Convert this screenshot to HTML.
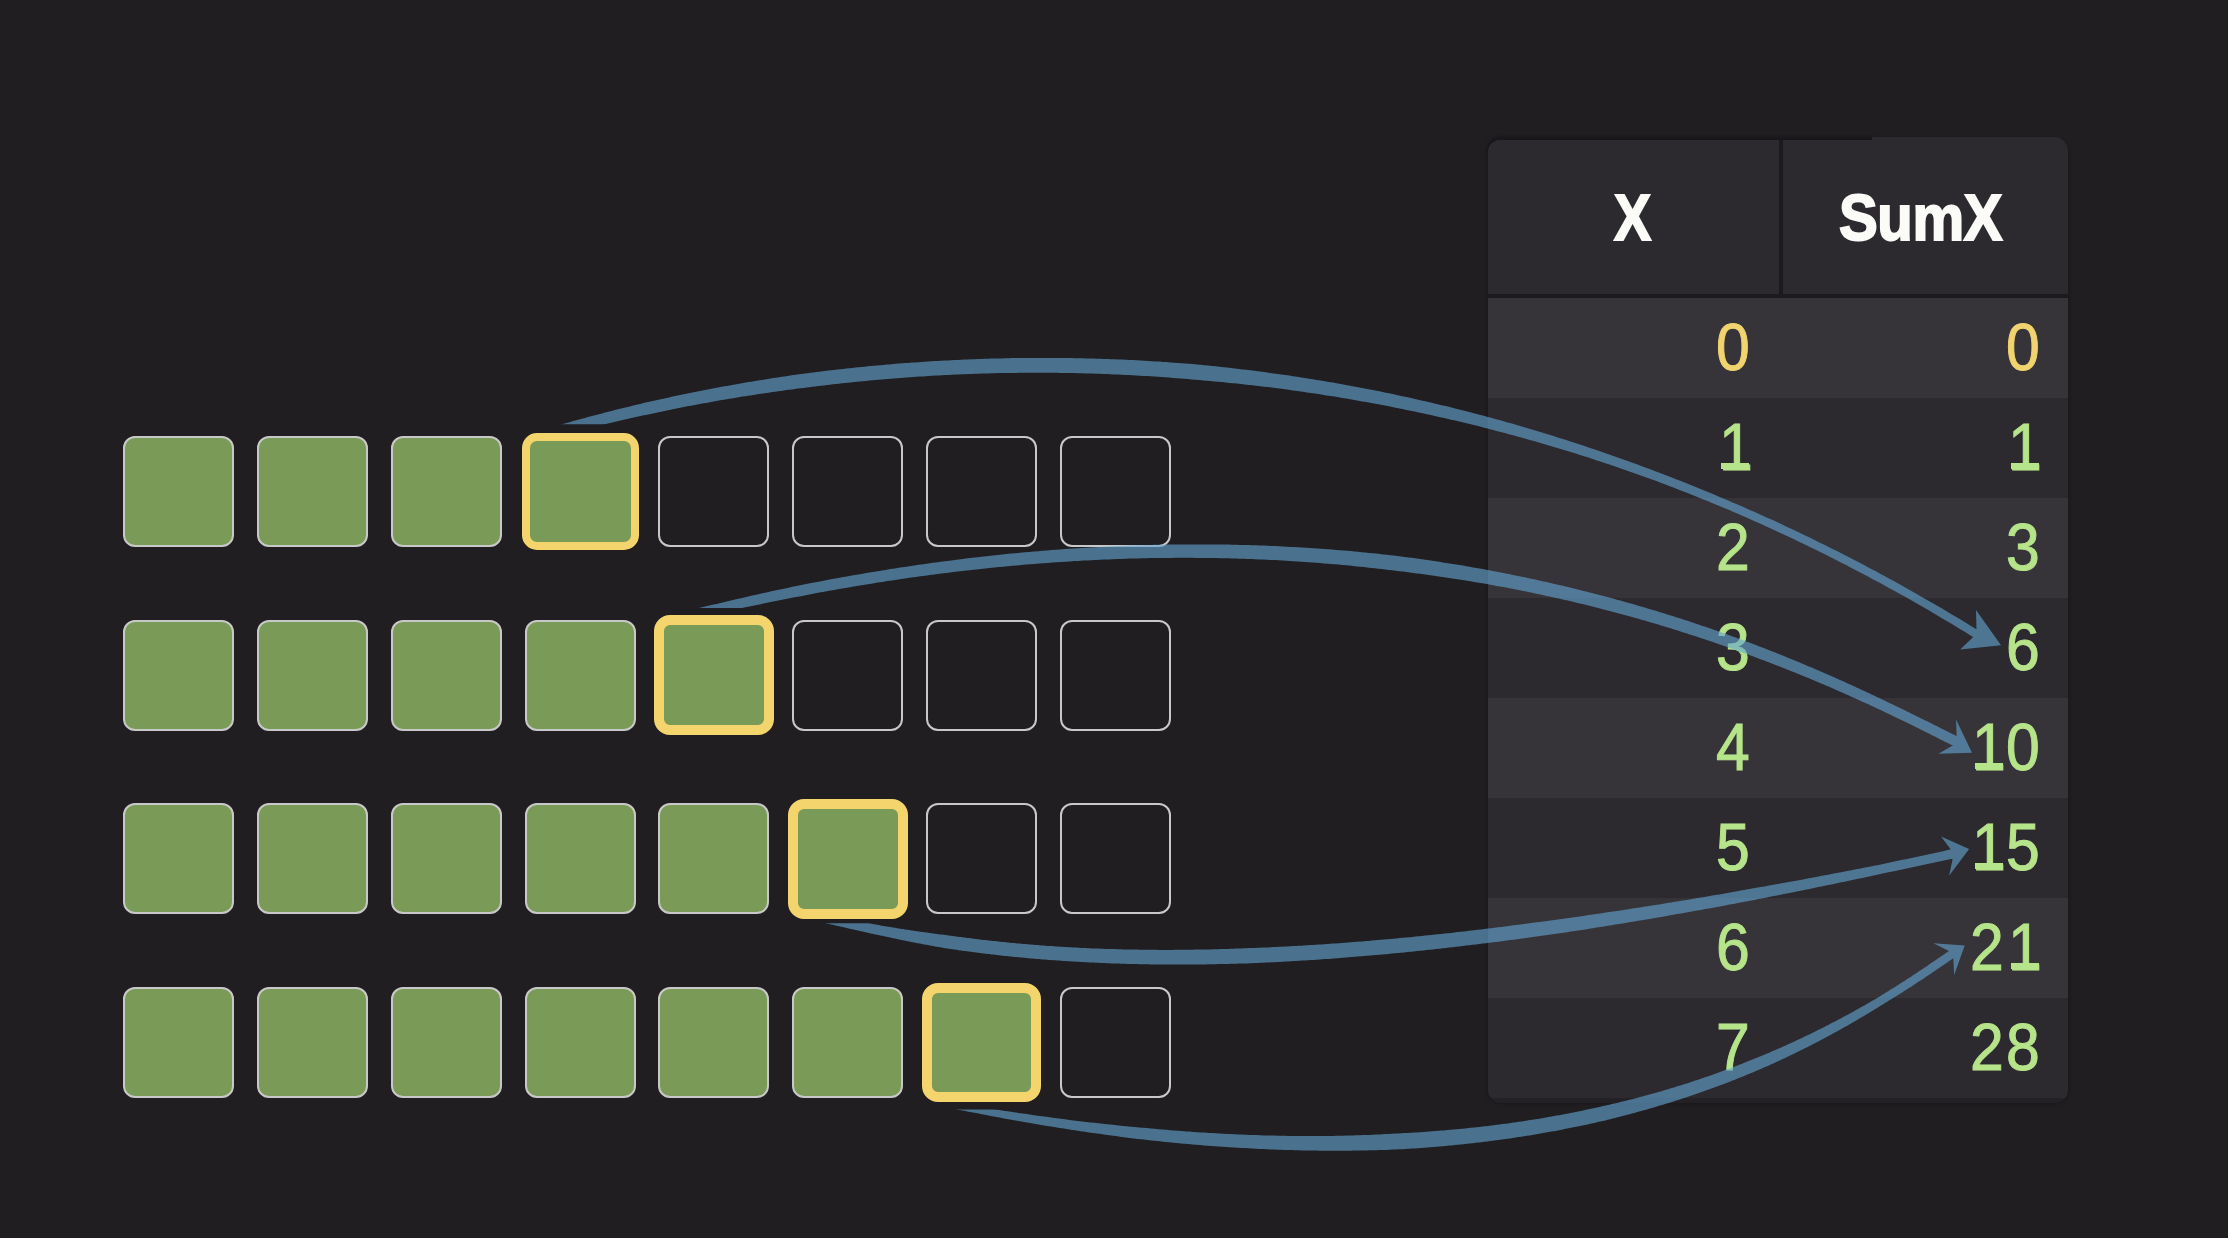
<!DOCTYPE html>
<html><head><meta charset="utf-8"><style>
html,body{margin:0;padding:0;}
body{width:2228px;height:1238px;background:#201e21;position:relative;overflow:hidden;font-family:"Liberation Sans",sans-serif;}
.sq{position:absolute;box-sizing:border-box;width:111px;height:111px;border:2px solid #c8c8c8;border-radius:12px;}
.sq.g{background:#7a9b57;}
.sq.hi{width:117px;height:117px;border:8px solid #f3d46d;border-radius:15px;background:#7a9b57;}
.tbl{position:absolute;left:1488px;top:139.5px;width:580px;height:963.5px;background:#232125;border-radius:12px 12px 13px 13px;overflow:hidden;box-shadow:0 0 4px rgba(0,0,0,0.35);}
.hdr{position:absolute;left:0;top:0;width:100%;height:154.5px;background:#2c2a2f;}
.vline{position:absolute;left:291px;top:0;width:4px;height:154.5px;background:#1b1a1d;}
.hline{position:absolute;left:0;top:154.5px;width:100%;height:4px;background:#1b1a1d;}
.row{position:absolute;left:0;width:100%;height:100px;}
.num{position:absolute;width:60px;text-align:center;height:100px;line-height:100px;font-family:"Liberation Sans",sans-serif;font-size:66px;transform:scaleX(0.92);white-space:nowrap;-webkit-text-stroke:1.0px currentColor;}
.base{position:absolute;width:28px;height:6.5px;}
.ht{position:absolute;top:1px;height:155px;line-height:155px;font-weight:bold;font-size:64px;color:#fbfbf7;white-space:nowrap;transform:scaleX(0.87);transform-origin:center;-webkit-text-stroke:2px #fbfbf7;}
svg{position:absolute;left:0;top:0;}
</style></head><body>
<div class="sq g" style="left:123.00px;top:436.00px"></div>
<div class="sq g" style="left:256.86px;top:436.00px"></div>
<div class="sq g" style="left:390.72px;top:436.00px"></div>
<div class="sq hi" style="left:521.58px;top:433.00px"></div>
<div class="sq e" style="left:658.44px;top:436.00px"></div>
<div class="sq e" style="left:792.30px;top:436.00px"></div>
<div class="sq e" style="left:926.16px;top:436.00px"></div>
<div class="sq e" style="left:1060.02px;top:436.00px"></div>
<div class="sq g" style="left:123.00px;top:619.67px"></div>
<div class="sq g" style="left:256.86px;top:619.67px"></div>
<div class="sq g" style="left:390.72px;top:619.67px"></div>
<div class="sq g" style="left:524.58px;top:619.67px"></div>
<div class="sq hi" style="left:654.19px;top:615.42px;width:119.5px;height:119.5px;border-width:10px;border-radius:16px"></div>
<div class="sq e" style="left:792.30px;top:619.67px"></div>
<div class="sq e" style="left:926.16px;top:619.67px"></div>
<div class="sq e" style="left:1060.02px;top:619.67px"></div>
<div class="sq g" style="left:123.00px;top:803.34px"></div>
<div class="sq g" style="left:256.86px;top:803.34px"></div>
<div class="sq g" style="left:390.72px;top:803.34px"></div>
<div class="sq g" style="left:524.58px;top:803.34px"></div>
<div class="sq g" style="left:658.44px;top:803.34px"></div>
<div class="sq hi" style="left:788.05px;top:799.09px;width:119.5px;height:119.5px;border-width:10px;border-radius:16px"></div>
<div class="sq e" style="left:926.16px;top:803.34px"></div>
<div class="sq e" style="left:1060.02px;top:803.34px"></div>
<div class="sq g" style="left:123.00px;top:987.01px"></div>
<div class="sq g" style="left:256.86px;top:987.01px"></div>
<div class="sq g" style="left:390.72px;top:987.01px"></div>
<div class="sq g" style="left:524.58px;top:987.01px"></div>
<div class="sq g" style="left:658.44px;top:987.01px"></div>
<div class="sq g" style="left:792.30px;top:987.01px"></div>
<div class="sq hi" style="left:921.91px;top:982.76px;width:119.5px;height:119.5px;border-width:10px;border-radius:16px"></div>
<div class="sq e" style="left:1060.02px;top:987.01px"></div>
<div style="position:absolute;left:1488px;top:137.3px;width:386px;height:16px;background:#1b1a1d;border-top-left-radius:13px;box-shadow:0 0 3px rgba(0,0,0,0.3)"></div>
<div class="tbl">
<div class="hdr"></div>
<div class="vline"></div>
<div class="hline"></div>

<div class="row" style="top:158.5px;background:#363439"></div>
<div class="num" style="top:157.5px;left:215.0px;color:#f1d46f">0</div>
<div class="num" style="top:157.5px;left:504.8px;color:#f1d46f">0</div>
<div class="row" style="top:258.5px;background:#2c2a2f"></div>
<div class="num" style="top:257.5px;left:217.5px;color:#b6e48a">1</div><div class="base" style="top:323.3px;left:233.3px;background:#b6e48a"></div>
<div class="num" style="top:257.5px;left:507.3px;color:#b6e48a">1</div><div class="base" style="top:323.3px;left:523.1px;background:#b6e48a"></div>
<div class="row" style="top:358.5px;background:#363439"></div>
<div class="num" style="top:357.5px;left:215.0px;color:#b6e48a">2</div>
<div class="num" style="top:357.5px;left:504.8px;color:#b6e48a">3</div>
<div class="row" style="top:458.5px;background:#2c2a2f"></div>
<div class="num" style="top:457.5px;left:215.0px;color:#b6e48a">3</div>
<div class="num" style="top:457.5px;left:504.8px;color:#b6e48a">6</div>
<div class="row" style="top:558.5px;background:#363439"></div>
<div class="num" style="top:557.5px;left:215.0px;color:#b6e48a">4</div>
<div class="num" style="top:557.5px;left:471.1px;color:#b6e48a">1</div><div class="base" style="top:623.3px;left:486.9px;background:#b6e48a"></div>
<div class="num" style="top:557.5px;left:504.8px;color:#b6e48a">0</div>
<div class="row" style="top:658.5px;background:#2c2a2f"></div>
<div class="num" style="top:657.5px;left:215.0px;color:#b6e48a">5</div>
<div class="num" style="top:657.5px;left:471.1px;color:#b6e48a">1</div><div class="base" style="top:723.3px;left:486.9px;background:#b6e48a"></div>
<div class="num" style="top:657.5px;left:504.8px;color:#b6e48a">5</div>
<div class="row" style="top:758.5px;background:#363439"></div>
<div class="num" style="top:757.5px;left:215.0px;color:#b6e48a">6</div>
<div class="num" style="top:757.5px;left:468.6px;color:#b6e48a">2</div>
<div class="num" style="top:757.5px;left:507.3px;color:#b6e48a">1</div><div class="base" style="top:823.3px;left:523.1px;background:#b6e48a"></div>
<div class="row" style="top:858.5px;background:#2c2a2f"></div>
<div class="num" style="top:857.5px;left:215.0px;color:#b6e48a">7</div>
<div class="num" style="top:857.5px;left:468.6px;color:#b6e48a">2</div>
<div class="num" style="top:857.5px;left:504.8px;color:#b6e48a">8</div>
<div class="ht" style="left:-1.5px;width:291px;text-align:center">X</div>
<div class="ht" style="left:289.5px;width:285px;text-align:center;letter-spacing:-0.5px;transform:scaleX(0.908)">SumX</div>
</div>
<div style="position:absolute;left:1872px;top:137.2px;width:196px;height:24px;background:#2c2a2f;border-top-right-radius:14px"></div>
<svg width="2228" height="1238" viewBox="0 0 2228 1238"><defs><clipPath id="c1"><path clip-rule="evenodd" d="M0 0 H2228 V1238 H0 Z M432.7 424.2 H732.7 V624.2 H432.7 Z"/></clipPath><clipPath id="c2"><path clip-rule="evenodd" d="M0 0 H2228 V1238 H0 Z M570.0 608.0 H870.0 V808.0 H570.0 Z"/></clipPath><clipPath id="c3"><path clip-rule="evenodd" d="M0 0 H2228 V1238 H0 Z M696.4 723.3 H996.4 V923.3 H696.4 Z"/></clipPath><clipPath id="c4"><path clip-rule="evenodd" d="M0 0 H2228 V1238 H0 Z M825.6 909.6 H1125.6 V1109.6 H825.6 Z"/></clipPath></defs>
<g fill="rgb(100,165,210)" fill-opacity="0.62">
<path clip-path="url(#c1)" d="M538.5 431.0 L540.1 430.5 L541.8 430.0 L543.5 429.5 L545.2 429.0 L547.0 428.5 L548.7 428.0 L550.4 427.5 L552.2 427.0 L554.0 426.5 L555.8 426.0 L557.5 425.4 L559.4 424.9 L561.2 424.4 L563.0 423.9 L564.9 423.4 L566.7 422.9 L568.6 422.4 L570.5 421.9 L572.3 421.3 L574.3 420.8 L576.2 420.3 L578.1 419.8 L580.0 419.3 L582.0 418.7 L583.9 418.2 L585.9 417.7 L587.9 417.1 L589.9 416.6 L591.9 416.1 L593.9 415.5 L595.9 415.0 L598.0 414.4 L600.0 413.9 L602.1 413.4 L604.1 412.8 L606.2 412.3 L608.3 411.7 L610.4 411.2 L612.6 410.7 L614.7 410.1 L616.8 409.6 L619.0 409.0 L621.1 408.5 L623.3 408.0 L625.5 407.4 L627.7 406.9 L629.9 406.4 L632.1 405.8 L634.4 405.3 L636.6 404.7 L638.9 404.2 L641.1 403.7 L643.4 403.1 L645.7 402.6 L648.0 402.1 L650.3 401.5 L652.6 401.0 L654.9 400.5 L657.3 400.0 L659.6 399.4 L662.0 398.9 L664.4 398.4 L666.7 397.9 L669.1 397.4 L671.5 396.8 L674.0 396.3 L676.4 395.8 L678.8 395.3 L681.3 394.8 L683.7 394.3 L686.2 393.8 L688.7 393.3 L691.2 392.8 L693.7 392.2 L696.2 391.7 L698.7 391.2 L701.2 390.7 L703.8 390.2 L706.3 389.8 L708.9 389.3 L711.4 388.8 L714.0 388.3 L716.6 387.8 L719.2 387.3 L721.8 386.8 L724.5 386.3 L727.1 385.9 L729.7 385.4 L732.4 384.9 L735.0 384.4 L737.7 384.0 L740.4 383.5 L743.1 383.0 L745.8 382.6 L748.5 382.1 L751.2 381.7 L753.9 381.2 L756.7 380.7 L759.4 380.3 L762.2 379.9 L765.0 379.4 L767.7 379.0 L770.5 378.5 L773.3 378.1 L776.1 377.7 L779.0 377.2 L781.8 376.8 L784.6 376.4 L787.5 376.0 L790.3 375.6 L793.2 375.1 L796.1 374.7 L798.9 374.3 L801.8 373.9 L804.7 373.5 L807.6 373.2 L810.6 372.8 L813.5 372.4 L816.4 372.0 L819.4 371.7 L822.3 371.3 L825.3 371.0 L828.3 370.6 L831.3 370.2 L834.3 369.9 L837.3 369.6 L840.3 369.2 L843.3 368.9 L846.3 368.5 L849.4 368.2 L852.4 367.9 L855.5 367.6 L858.5 367.3 L861.6 367.0 L864.7 366.7 L867.8 366.3 L870.9 366.1 L874.0 365.8 L877.1 365.5 L880.2 365.2 L883.4 364.9 L886.5 364.6 L889.7 364.4 L892.8 364.1 L896.0 363.8 L899.2 363.6 L902.3 363.3 L905.5 363.1 L908.7 362.9 L911.9 362.6 L915.2 362.4 L918.4 362.2 L921.6 361.9 L924.9 361.7 L928.1 361.5 L931.4 361.3 L934.6 361.1 L937.9 360.9 L941.2 360.7 L944.5 360.6 L947.8 360.4 L951.1 360.2 L954.4 360.0 L957.7 359.9 L961.1 359.7 L964.4 359.6 L967.7 359.4 L971.1 359.3 L974.5 359.2 L977.8 359.1 L981.2 358.9 L984.6 358.8 L988.0 358.7 L991.4 358.6 L994.8 358.5 L998.2 358.4 L1001.6 358.4 L1005.0 358.3 L1008.5 358.2 L1011.9 358.1 L1015.4 358.1 L1018.8 358.0 L1022.3 358.0 L1025.8 358.0 L1029.3 357.9 L1032.7 357.9 L1036.2 357.9 L1039.7 357.9 L1043.2 357.9 L1046.8 357.9 L1050.3 357.9 L1053.8 357.9 L1057.4 357.9 L1060.9 358.0 L1064.5 358.0 L1068.0 358.1 L1071.6 358.1 L1075.2 358.2 L1078.7 358.2 L1082.3 358.3 L1085.9 358.4 L1089.5 358.5 L1093.1 358.6 L1096.7 358.7 L1100.4 358.8 L1104.0 358.9 L1107.6 359.0 L1111.3 359.2 L1114.9 359.3 L1118.6 359.5 L1122.2 359.6 L1125.9 359.8 L1129.6 360.0 L1133.2 360.1 L1136.9 360.3 L1140.6 360.5 L1144.3 360.7 L1148.0 360.9 L1151.7 361.2 L1155.5 361.4 L1159.2 361.6 L1162.9 361.9 L1166.7 362.1 L1170.4 362.4 L1174.1 362.7 L1177.9 362.9 L1181.7 363.2 L1185.4 363.5 L1189.2 363.8 L1193.0 364.1 L1196.8 364.5 L1200.6 364.8 L1204.4 365.2 L1208.2 365.5 L1212.0 365.9 L1215.8 366.3 L1219.6 366.7 L1223.4 367.2 L1227.3 367.6 L1231.1 368.0 L1234.9 368.5 L1238.8 368.9 L1242.6 369.4 L1246.5 369.8 L1250.4 370.3 L1254.2 370.8 L1258.1 371.3 L1262.0 371.8 L1265.9 372.3 L1269.7 372.9 L1273.6 373.4 L1277.5 373.9 L1281.5 374.5 L1285.4 375.1 L1289.3 375.6 L1293.2 376.2 L1297.1 376.8 L1301.1 377.4 L1305.0 378.0 L1308.9 378.7 L1312.9 379.3 L1316.8 379.9 L1320.8 380.6 L1324.8 381.2 L1328.7 381.9 L1332.7 382.6 L1336.7 383.3 L1340.7 384.0 L1344.6 384.7 L1348.6 385.5 L1352.6 386.2 L1356.6 386.9 L1360.6 387.7 L1364.6 388.5 L1368.7 389.2 L1372.7 390.0 L1376.7 390.8 L1380.7 391.6 L1384.8 392.5 L1388.8 393.3 L1392.8 394.1 L1396.9 395.0 L1400.9 395.9 L1405.0 396.7 L1409.1 397.6 L1413.1 398.5 L1417.2 399.4 L1421.3 400.4 L1425.3 401.3 L1429.4 402.2 L1433.5 403.2 L1437.6 404.2 L1441.7 405.2 L1445.8 406.1 L1449.9 407.1 L1454.0 408.2 L1458.1 409.2 L1462.2 410.2 L1466.3 411.3 L1470.4 412.3 L1474.6 413.4 L1478.7 414.5 L1482.8 415.6 L1487.0 416.7 L1491.1 417.8 L1495.2 419.0 L1499.4 420.1 L1503.5 421.3 L1507.7 422.4 L1511.9 423.6 L1516.0 424.8 L1520.2 426.0 L1524.4 427.2 L1528.5 428.4 L1532.7 429.7 L1536.9 430.9 L1541.1 432.2 L1545.2 433.5 L1549.4 434.8 L1553.6 436.1 L1557.8 437.4 L1562.0 438.7 L1566.2 440.1 L1570.4 441.4 L1574.6 442.8 L1578.9 444.2 L1583.1 445.6 L1587.3 447.0 L1591.5 448.4 L1595.7 449.8 L1600.0 451.3 L1604.2 452.7 L1608.4 454.2 L1612.7 455.7 L1616.9 457.2 L1621.2 458.7 L1625.4 460.2 L1629.7 461.7 L1633.9 463.3 L1638.2 464.8 L1642.4 466.4 L1646.7 468.0 L1651.0 469.6 L1655.2 471.2 L1659.5 472.8 L1663.8 474.4 L1668.0 476.1 L1672.3 477.8 L1676.6 479.4 L1680.9 481.1 L1685.2 482.8 L1689.5 484.5 L1693.8 486.3 L1698.1 488.0 L1702.4 489.8 L1706.7 491.5 L1711.0 493.3 L1715.3 495.1 L1719.6 496.9 L1723.9 498.7 L1728.2 500.6 L1732.5 502.4 L1736.9 504.3 L1741.2 506.1 L1745.5 508.0 L1749.8 509.9 L1754.2 511.8 L1758.5 513.8 L1762.8 515.7 L1767.2 517.7 L1771.5 519.6 L1775.9 521.6 L1780.2 523.6 L1784.6 525.7 L1788.9 527.7 L1793.3 529.7 L1797.6 531.8 L1802.0 533.9 L1806.3 536.0 L1810.7 538.1 L1815.0 540.2 L1819.4 542.4 L1823.8 544.5 L1828.1 546.7 L1832.5 548.9 L1836.9 551.1 L1841.2 553.3 L1845.6 555.5 L1850.0 557.8 L1854.4 560.0 L1858.7 562.3 L1863.1 564.6 L1867.5 566.9 L1871.9 569.2 L1876.3 571.6 L1880.6 573.9 L1885.0 576.3 L1889.4 578.7 L1893.8 581.1 L1898.2 583.5 L1902.6 586.0 L1907.0 588.4 L1911.4 590.9 L1915.8 593.4 L1920.1 595.9 L1924.5 598.4 L1928.9 600.9 L1933.3 603.5 L1937.7 606.1 L1942.1 608.6 L1946.5 611.2 L1950.9 613.9 L1955.4 616.5 L1959.8 619.1 L1964.2 621.8 L1968.6 624.5 L1973.0 627.2 L1977.4 629.9 L1981.8 632.7 L1977.4 639.7 L1973.0 637.0 L1968.6 634.2 L1964.3 631.6 L1959.9 628.9 L1955.5 626.2 L1951.1 623.6 L1946.7 621.0 L1942.3 618.4 L1937.9 615.8 L1933.6 613.2 L1929.2 610.6 L1924.8 608.1 L1920.4 605.6 L1916.0 603.1 L1911.7 600.6 L1907.3 598.1 L1902.9 595.6 L1898.6 593.2 L1894.2 590.8 L1889.8 588.4 L1885.4 586.0 L1881.1 583.6 L1876.7 581.2 L1872.3 578.9 L1868.0 576.5 L1863.6 574.2 L1859.3 571.9 L1854.9 569.7 L1850.5 567.4 L1846.2 565.1 L1841.8 562.9 L1837.5 560.7 L1833.1 558.5 L1828.8 556.3 L1824.4 554.1 L1820.1 552.0 L1815.7 549.8 L1811.4 547.7 L1807.0 545.6 L1802.7 543.5 L1798.4 541.4 L1794.0 539.3 L1789.7 537.3 L1785.4 535.2 L1781.0 533.2 L1776.7 531.2 L1772.4 529.2 L1768.1 527.2 L1763.7 525.3 L1759.4 523.3 L1755.1 521.4 L1750.8 519.5 L1746.5 517.6 L1742.2 515.7 L1737.8 513.8 L1733.5 512.0 L1729.2 510.1 L1724.9 508.3 L1720.6 506.5 L1716.3 504.7 L1712.0 502.9 L1707.7 501.1 L1703.4 499.4 L1699.2 497.7 L1694.9 495.9 L1690.6 494.2 L1686.3 492.5 L1682.0 490.9 L1677.7 489.2 L1673.4 487.6 L1669.2 485.9 L1664.9 484.3 L1660.6 482.7 L1656.4 481.1 L1652.1 479.6 L1647.8 478.0 L1643.6 476.5 L1639.3 474.9 L1635.1 473.4 L1630.8 471.9 L1626.6 470.4 L1622.3 469.0 L1618.1 467.5 L1613.8 466.0 L1609.6 464.6 L1605.4 463.2 L1601.1 461.8 L1596.9 460.4 L1592.7 459.0 L1588.5 457.6 L1584.2 456.3 L1580.0 454.9 L1575.8 453.6 L1571.6 452.3 L1567.4 451.0 L1563.2 449.7 L1559.0 448.5 L1554.8 447.2 L1550.6 445.9 L1546.4 444.7 L1542.3 443.5 L1538.1 442.3 L1533.9 441.1 L1529.7 439.9 L1525.6 438.7 L1521.4 437.6 L1517.2 436.4 L1513.1 435.3 L1508.9 434.2 L1504.8 433.0 L1500.6 431.9 L1496.5 430.9 L1492.4 429.8 L1488.2 428.7 L1484.1 427.7 L1480.0 426.6 L1475.9 425.6 L1471.7 424.6 L1467.6 423.6 L1463.5 422.6 L1459.4 421.6 L1455.3 420.6 L1451.2 419.7 L1447.1 418.7 L1443.0 417.8 L1439.0 416.9 L1434.9 415.9 L1430.8 415.0 L1426.7 414.2 L1422.7 413.3 L1418.6 412.4 L1414.6 411.5 L1410.5 410.7 L1406.5 409.9 L1402.4 409.0 L1398.4 408.2 L1394.3 407.4 L1390.3 406.6 L1386.3 405.8 L1382.3 405.1 L1378.3 404.3 L1374.2 403.6 L1370.2 402.8 L1366.2 402.1 L1362.2 401.4 L1358.3 400.7 L1354.3 400.0 L1350.3 399.3 L1346.3 398.6 L1342.3 397.9 L1338.4 397.3 L1334.4 396.6 L1330.5 396.0 L1326.5 395.4 L1322.6 394.7 L1318.6 394.1 L1314.7 393.5 L1310.8 393.0 L1306.8 392.4 L1302.9 391.8 L1299.0 391.3 L1295.1 390.7 L1291.2 390.2 L1287.3 389.6 L1283.4 389.1 L1279.5 388.6 L1275.6 388.1 L1271.8 387.6 L1267.9 387.1 L1264.0 386.7 L1260.2 386.2 L1256.3 385.8 L1252.5 385.3 L1248.6 384.9 L1244.8 384.5 L1241.0 384.0 L1237.1 383.6 L1233.3 383.2 L1229.5 382.9 L1225.7 382.5 L1221.9 382.1 L1218.1 381.7 L1214.3 381.4 L1210.5 381.1 L1206.7 380.7 L1203.0 380.4 L1199.2 380.1 L1195.4 379.7 L1191.7 379.4 L1187.9 379.1 L1184.2 378.8 L1180.5 378.5 L1176.7 378.2 L1173.0 377.9 L1169.3 377.6 L1165.6 377.3 L1161.9 377.1 L1158.2 376.8 L1154.5 376.6 L1150.8 376.3 L1147.1 376.1 L1143.4 375.9 L1139.8 375.7 L1136.1 375.4 L1132.5 375.2 L1128.8 375.1 L1125.2 374.9 L1121.5 374.7 L1117.9 374.5 L1114.3 374.4 L1110.7 374.2 L1107.1 374.1 L1103.4 373.9 L1099.9 373.8 L1096.3 373.7 L1092.7 373.6 L1089.1 373.5 L1085.5 373.4 L1082.0 373.3 L1078.4 373.2 L1074.9 373.1 L1071.3 373.0 L1067.8 373.0 L1064.3 372.9 L1060.7 372.9 L1057.2 372.8 L1053.7 372.8 L1050.2 372.8 L1046.7 372.7 L1043.2 372.7 L1039.7 372.7 L1036.3 372.7 L1032.8 372.7 L1029.3 372.7 L1025.9 372.8 L1022.4 372.8 L1019.0 372.8 L1015.6 372.9 L1012.2 372.9 L1008.7 372.9 L1005.3 373.0 L1001.9 373.1 L998.5 373.1 L995.1 373.2 L991.8 373.3 L988.4 373.4 L985.0 373.5 L981.7 373.6 L978.3 373.7 L975.0 373.8 L971.6 373.9 L968.3 374.0 L965.0 374.2 L961.7 374.3 L958.4 374.5 L955.1 374.6 L951.8 374.8 L948.5 374.9 L945.3 375.1 L942.0 375.2 L938.7 375.4 L935.5 375.6 L932.2 375.8 L929.0 376.0 L925.8 376.2 L922.6 376.4 L919.4 376.6 L916.2 376.8 L913.0 377.0 L909.8 377.2 L906.6 377.5 L903.4 377.7 L900.3 377.9 L897.1 378.2 L894.0 378.4 L890.8 378.7 L887.7 378.9 L884.6 379.2 L881.5 379.5 L878.4 379.7 L875.3 380.0 L872.2 380.3 L869.1 380.6 L866.1 380.9 L863.0 381.2 L860.0 381.5 L856.9 381.8 L853.9 382.1 L850.9 382.4 L847.8 382.7 L844.8 383.0 L841.8 383.3 L838.9 383.7 L835.9 384.0 L832.9 384.3 L829.9 384.7 L827.0 385.0 L824.0 385.4 L821.1 385.7 L818.2 386.1 L815.3 386.4 L812.3 386.8 L809.4 387.2 L806.6 387.5 L803.7 387.9 L800.8 388.3 L797.9 388.6 L795.1 389.0 L792.2 389.4 L789.4 389.8 L786.6 390.1 L783.7 390.5 L780.9 390.9 L778.1 391.3 L775.3 391.7 L772.6 392.1 L769.8 392.5 L767.0 392.9 L764.3 393.3 L761.5 393.7 L758.8 394.1 L756.1 394.5 L753.3 394.9 L750.6 395.4 L747.9 395.8 L745.3 396.2 L742.6 396.6 L739.9 397.1 L737.3 397.5 L734.6 397.9 L732.0 398.4 L729.3 398.8 L726.7 399.2 L724.1 399.7 L721.5 400.1 L718.9 400.6 L716.4 401.0 L713.8 401.5 L711.2 401.9 L708.7 402.4 L706.1 402.9 L703.6 403.3 L701.1 403.8 L698.6 404.3 L696.1 404.7 L693.6 405.2 L691.1 405.7 L688.7 406.1 L686.2 406.6 L683.7 407.1 L681.3 407.6 L678.9 408.0 L676.5 408.5 L674.1 409.0 L671.7 409.5 L669.3 410.0 L666.9 410.4 L664.6 410.9 L662.2 411.4 L659.9 411.9 L657.5 412.4 L655.2 412.9 L652.9 413.4 L650.6 413.9 L648.3 414.4 L646.0 414.9 L643.8 415.3 L641.5 415.8 L639.3 416.3 L637.0 416.8 L634.8 417.3 L632.6 417.8 L630.4 418.3 L628.2 418.8 L626.0 419.3 L623.8 419.8 L621.7 420.3 L619.5 420.8 L617.4 421.3 L615.3 421.8 L613.2 422.3 L611.1 422.8 L609.0 423.3 L606.9 423.8 L604.8 424.3 L602.8 424.8 L600.7 425.3 L598.7 425.8 L596.7 426.3 L594.7 426.8 L592.7 427.3 L590.7 427.8 L588.7 428.3 L586.7 428.8 L584.8 429.3 L582.8 429.8 L580.9 430.3 L579.0 430.8 L577.1 431.3 L575.2 431.9 L573.3 432.4 L571.5 432.9 L569.6 433.4 L567.8 433.9 L565.9 434.4 L564.1 434.9 L562.3 435.4 L560.5 435.9 L558.7 436.4 L557.0 436.9 L555.2 437.4 L553.5 437.9 L551.7 438.5 L550.0 439.0 L548.3 439.4 L546.6 439.9 L544.9 440.4 L543.2 440.9 L541.6 441.4Z M1960.2 649.4 L1976.6 633.7 L1976.0 610.0 L2001.0 645.3Z"/>
<path clip-path="url(#c2)" d="M595.1 635.5 L600.5 634.0 L605.8 632.5 L611.2 631.0 L616.6 629.5 L621.9 628.0 L627.3 626.5 L632.6 625.1 L637.9 623.6 L643.2 622.2 L648.5 620.8 L653.8 619.4 L659.1 618.1 L664.4 616.7 L669.6 615.3 L674.9 614.0 L680.1 612.7 L685.3 611.4 L690.5 610.1 L695.7 608.8 L700.9 607.6 L706.1 606.3 L711.3 605.1 L716.5 603.9 L721.6 602.7 L726.7 601.5 L731.9 600.2 L737.0 599.1 L742.1 597.9 L747.2 596.7 L752.2 595.6 L757.3 594.4 L762.4 593.3 L767.4 592.2 L772.4 591.1 L777.5 590.0 L782.5 588.9 L787.5 587.9 L792.5 586.8 L797.5 585.8 L802.5 584.8 L807.4 583.8 L812.4 582.8 L817.3 581.9 L822.3 581.0 L827.2 580.0 L832.1 579.1 L837.0 578.2 L841.9 577.3 L846.8 576.4 L851.7 575.6 L856.5 574.7 L861.4 573.9 L866.2 573.1 L871.1 572.2 L875.9 571.5 L880.7 570.7 L885.5 569.9 L890.3 569.1 L895.1 568.4 L899.8 567.6 L904.6 566.9 L909.4 566.2 L914.1 565.5 L918.8 564.8 L923.5 564.2 L928.2 563.5 L932.9 562.8 L937.6 562.2 L942.3 561.6 L947.0 561.0 L951.6 560.4 L956.3 559.8 L960.9 559.2 L965.5 558.6 L970.2 558.1 L974.8 557.5 L979.4 557.0 L983.9 556.5 L988.5 556.0 L993.1 555.5 L997.6 555.0 L1002.2 554.5 L1006.7 554.1 L1011.2 553.6 L1015.7 553.2 L1020.2 552.8 L1024.7 552.3 L1029.2 551.9 L1033.7 551.5 L1038.1 551.2 L1042.6 550.8 L1047.0 550.4 L1051.4 550.1 L1055.9 549.7 L1060.3 549.4 L1064.7 549.1 L1069.1 548.8 L1073.4 548.5 L1077.8 548.2 L1082.2 547.9 L1086.5 547.7 L1090.8 547.4 L1095.2 547.2 L1099.5 546.9 L1103.8 546.7 L1108.1 546.5 L1112.4 546.3 L1116.6 546.1 L1120.9 545.9 L1125.2 545.8 L1129.4 545.6 L1133.6 545.4 L1137.9 545.3 L1142.1 545.2 L1146.3 545.1 L1150.5 544.9 L1154.6 544.8 L1158.8 544.8 L1163.0 544.7 L1167.1 544.6 L1171.3 544.5 L1175.4 544.5 L1179.5 544.4 L1183.6 544.4 L1187.7 544.4 L1191.8 544.4 L1195.9 544.4 L1200.0 544.4 L1204.0 544.4 L1208.1 544.4 L1212.1 544.4 L1216.2 544.5 L1220.2 544.5 L1224.2 544.6 L1228.2 544.6 L1232.2 544.7 L1236.2 544.8 L1240.1 544.9 L1244.1 545.0 L1248.0 545.1 L1252.0 545.2 L1255.9 545.3 L1259.8 545.5 L1263.7 545.6 L1267.6 545.8 L1271.5 545.9 L1275.4 546.1 L1279.2 546.3 L1283.1 546.5 L1286.9 546.7 L1290.8 546.9 L1294.6 547.1 L1298.4 547.3 L1302.2 547.5 L1306.0 547.7 L1309.8 548.0 L1313.6 548.2 L1317.4 548.5 L1321.1 548.8 L1324.9 549.0 L1328.6 549.3 L1332.3 549.6 L1336.0 549.9 L1339.7 550.2 L1343.4 550.5 L1347.1 550.8 L1350.8 551.1 L1354.5 551.5 L1358.1 551.8 L1361.8 552.2 L1365.4 552.5 L1369.0 552.9 L1372.6 553.2 L1376.2 553.6 L1379.8 554.0 L1383.4 554.4 L1387.0 554.8 L1390.5 555.2 L1394.1 555.6 L1397.6 556.0 L1401.2 556.4 L1404.7 556.9 L1408.2 557.4 L1411.7 557.8 L1415.2 558.3 L1418.7 558.8 L1422.1 559.3 L1425.6 559.8 L1429.1 560.3 L1432.5 560.8 L1435.9 561.3 L1439.3 561.8 L1442.8 562.4 L1446.1 562.9 L1449.5 563.4 L1452.9 564.0 L1456.3 564.5 L1459.6 565.1 L1463.0 565.6 L1466.3 566.2 L1469.7 566.8 L1473.0 567.4 L1476.3 567.9 L1479.6 568.5 L1482.9 569.1 L1486.1 569.7 L1489.4 570.3 L1492.7 570.9 L1495.9 571.6 L1499.2 572.2 L1502.4 572.8 L1505.6 573.4 L1508.8 574.1 L1512.0 574.7 L1515.2 575.4 L1518.4 576.0 L1521.5 576.7 L1524.7 577.3 L1527.8 578.0 L1531.0 578.7 L1534.1 579.3 L1537.2 580.0 L1540.3 580.7 L1543.4 581.4 L1546.5 582.1 L1549.6 582.8 L1552.7 583.5 L1555.7 584.2 L1558.8 584.9 L1561.8 585.6 L1564.8 586.3 L1567.9 587.0 L1570.9 587.8 L1573.9 588.5 L1576.8 589.2 L1579.8 590.0 L1582.8 590.7 L1585.7 591.5 L1588.7 592.2 L1591.6 593.0 L1594.6 593.7 L1597.5 594.5 L1600.4 595.2 L1603.3 596.0 L1606.2 596.8 L1609.1 597.5 L1611.9 598.3 L1614.8 599.1 L1617.6 599.9 L1620.5 600.6 L1623.3 601.4 L1626.1 602.2 L1628.9 603.0 L1631.7 603.8 L1634.5 604.6 L1637.3 605.4 L1640.1 606.2 L1642.8 607.0 L1645.6 607.8 L1648.3 608.7 L1651.1 609.5 L1653.8 610.3 L1656.5 611.1 L1659.2 611.9 L1661.9 612.8 L1664.6 613.6 L1667.2 614.4 L1669.9 615.2 L1672.6 616.1 L1675.2 616.9 L1677.8 617.8 L1680.5 618.6 L1683.1 619.4 L1685.7 620.3 L1688.3 621.1 L1690.9 622.0 L1693.4 622.8 L1696.0 623.7 L1698.5 624.5 L1701.1 625.4 L1703.6 626.3 L1706.2 627.1 L1708.7 628.0 L1711.2 628.8 L1713.7 629.7 L1716.2 630.6 L1718.6 631.4 L1721.1 632.3 L1723.6 633.2 L1726.0 634.0 L1728.4 634.9 L1730.9 635.8 L1733.3 636.7 L1735.7 637.5 L1738.1 638.4 L1740.5 639.3 L1742.9 640.2 L1745.2 641.1 L1747.6 641.9 L1749.9 642.8 L1752.3 643.7 L1754.6 644.6 L1756.9 645.5 L1759.2 646.4 L1761.5 647.2 L1763.8 648.1 L1766.1 649.0 L1768.4 649.9 L1770.7 650.8 L1772.9 651.7 L1775.2 652.6 L1777.4 653.5 L1779.6 654.3 L1781.8 655.2 L1784.0 656.1 L1786.2 657.0 L1788.4 657.9 L1790.6 658.8 L1792.8 659.7 L1794.9 660.6 L1797.1 661.4 L1799.2 662.3 L1801.3 663.2 L1803.4 664.1 L1805.5 665.0 L1807.6 665.9 L1809.7 666.8 L1811.8 667.6 L1813.9 668.5 L1815.9 669.4 L1818.0 670.3 L1820.0 671.2 L1822.1 672.0 L1824.1 672.9 L1826.1 673.8 L1828.1 674.7 L1830.1 675.6 L1832.1 676.4 L1834.1 677.3 L1836.0 678.2 L1838.0 679.0 L1839.9 679.9 L1841.9 680.8 L1843.8 681.6 L1845.7 682.5 L1847.6 683.4 L1849.5 684.2 L1851.4 685.1 L1853.3 686.0 L1855.1 686.8 L1857.0 687.7 L1858.9 688.5 L1860.7 689.4 L1862.5 690.2 L1864.4 691.1 L1866.2 691.9 L1868.0 692.8 L1869.8 693.6 L1871.5 694.4 L1873.3 695.3 L1875.1 696.1 L1876.8 696.9 L1878.6 697.8 L1880.3 698.6 L1882.1 699.4 L1883.8 700.2 L1885.5 701.1 L1887.2 701.9 L1888.9 702.7 L1890.6 703.5 L1892.2 704.3 L1893.9 705.1 L1895.6 705.9 L1897.2 706.7 L1898.8 707.4 L1900.5 708.2 L1902.1 709.0 L1903.7 709.8 L1905.3 710.6 L1906.9 711.4 L1908.5 712.1 L1910.0 712.9 L1911.6 713.7 L1913.2 714.4 L1914.7 715.2 L1916.2 715.9 L1917.8 716.7 L1919.3 717.4 L1920.8 718.2 L1922.3 718.9 L1923.8 719.7 L1925.2 720.4 L1926.7 721.1 L1928.2 721.8 L1929.6 722.6 L1931.0 723.3 L1932.5 724.0 L1933.9 724.7 L1935.3 725.4 L1936.7 726.1 L1938.1 726.8 L1939.5 727.5 L1940.9 728.2 L1942.2 728.9 L1943.6 729.6 L1944.9 730.2 L1946.3 730.9 L1947.6 731.6 L1948.9 732.2 L1950.2 732.9 L1951.5 733.5 L1952.8 734.2 L1954.1 734.8 L1955.4 735.5 L1956.6 736.1 L1957.9 736.7 L1959.1 737.3 L1960.3 738.0 L1961.6 738.6 L1957.0 747.7 L1955.8 747.1 L1954.5 746.5 L1953.3 745.9 L1952.0 745.2 L1950.8 744.6 L1949.5 744.0 L1948.2 743.3 L1946.9 742.7 L1945.6 742.0 L1944.3 741.4 L1943.0 740.7 L1941.7 740.0 L1940.3 739.4 L1939.0 738.7 L1937.6 738.0 L1936.3 737.3 L1934.9 736.6 L1933.5 735.9 L1932.1 735.2 L1930.7 734.5 L1929.3 733.8 L1927.9 733.1 L1926.5 732.4 L1925.1 731.7 L1923.6 731.0 L1922.2 730.3 L1920.7 729.5 L1919.2 728.8 L1917.7 728.1 L1916.2 727.3 L1914.7 726.6 L1913.2 725.8 L1911.7 725.1 L1910.2 724.3 L1908.6 723.6 L1907.1 722.8 L1905.5 722.1 L1904.0 721.3 L1902.4 720.5 L1900.8 719.8 L1899.2 719.0 L1897.6 718.2 L1896.0 717.4 L1894.4 716.7 L1892.8 715.9 L1891.1 715.1 L1889.5 714.3 L1887.8 713.5 L1886.2 712.7 L1884.5 711.9 L1882.8 711.1 L1881.1 710.3 L1879.4 709.5 L1877.7 708.7 L1876.0 707.9 L1874.2 707.1 L1872.5 706.2 L1870.7 705.4 L1869.0 704.6 L1867.2 703.8 L1865.4 703.0 L1863.6 702.2 L1861.8 701.4 L1860.0 700.5 L1858.2 699.7 L1856.4 698.9 L1854.5 698.1 L1852.7 697.2 L1850.8 696.4 L1848.9 695.6 L1847.1 694.7 L1845.2 693.9 L1843.3 693.0 L1841.4 692.2 L1839.5 691.4 L1837.5 690.5 L1835.6 689.7 L1833.7 688.8 L1831.7 688.0 L1829.8 687.1 L1827.8 686.3 L1825.8 685.4 L1823.8 684.6 L1821.8 683.7 L1819.8 682.9 L1817.8 682.0 L1815.8 681.2 L1813.7 680.3 L1811.7 679.5 L1809.6 678.6 L1807.6 677.8 L1805.5 676.9 L1803.4 676.0 L1801.3 675.2 L1799.2 674.3 L1797.1 673.5 L1795.0 672.6 L1792.8 671.8 L1790.7 670.9 L1788.6 670.0 L1786.4 669.2 L1784.2 668.3 L1782.0 667.5 L1779.9 666.6 L1777.7 665.7 L1775.5 664.9 L1773.2 664.0 L1771.0 663.2 L1768.8 662.3 L1766.5 661.4 L1764.3 660.6 L1762.0 659.7 L1759.7 658.9 L1757.5 658.0 L1755.2 657.2 L1752.9 656.3 L1750.5 655.4 L1748.2 654.6 L1745.9 653.7 L1743.6 652.9 L1741.2 652.0 L1738.8 651.2 L1736.5 650.3 L1734.1 649.5 L1731.7 648.6 L1729.3 647.8 L1726.9 646.9 L1724.5 646.1 L1722.1 645.2 L1719.6 644.4 L1717.2 643.5 L1714.7 642.7 L1712.3 641.8 L1709.8 641.0 L1707.3 640.2 L1704.8 639.3 L1702.3 638.5 L1699.8 637.7 L1697.3 636.8 L1694.7 636.0 L1692.2 635.2 L1689.7 634.4 L1687.1 633.5 L1684.5 632.7 L1681.9 631.9 L1679.4 631.1 L1676.8 630.3 L1674.1 629.4 L1671.5 628.6 L1668.9 627.8 L1666.3 627.0 L1663.6 626.2 L1661.0 625.4 L1658.3 624.6 L1655.6 623.8 L1652.9 623.0 L1650.2 622.2 L1647.5 621.4 L1644.8 620.6 L1642.1 619.9 L1639.4 619.1 L1636.6 618.3 L1633.9 617.5 L1631.1 616.7 L1628.3 616.0 L1625.5 615.2 L1622.7 614.4 L1619.9 613.7 L1617.1 612.9 L1614.3 612.2 L1611.5 611.4 L1608.6 610.7 L1605.8 609.9 L1602.9 609.2 L1600.0 608.4 L1597.2 607.7 L1594.3 607.0 L1591.4 606.3 L1588.5 605.5 L1585.5 604.8 L1582.6 604.1 L1579.7 603.4 L1576.7 602.7 L1573.8 602.0 L1570.8 601.3 L1567.8 600.6 L1564.8 599.9 L1561.8 599.2 L1558.8 598.5 L1555.8 597.9 L1552.8 597.2 L1549.7 596.5 L1546.7 595.9 L1543.6 595.2 L1540.6 594.5 L1537.5 593.9 L1534.4 593.2 L1531.3 592.6 L1528.2 592.0 L1525.1 591.3 L1522.0 590.7 L1518.8 590.1 L1515.7 589.5 L1512.5 588.8 L1509.4 588.2 L1506.2 587.6 L1503.0 587.0 L1499.8 586.4 L1496.6 585.9 L1493.4 585.3 L1490.2 584.7 L1486.9 584.1 L1483.7 583.5 L1480.4 583.0 L1477.2 582.4 L1473.9 581.9 L1470.6 581.3 L1467.3 580.8 L1464.0 580.3 L1460.7 579.7 L1457.4 579.2 L1454.0 578.7 L1450.7 578.2 L1447.3 577.7 L1444.0 577.2 L1440.6 576.7 L1437.2 576.2 L1433.8 575.7 L1430.4 575.2 L1427.0 574.8 L1423.6 574.3 L1420.1 573.8 L1416.7 573.4 L1413.3 572.9 L1409.8 572.5 L1406.3 572.1 L1402.8 571.6 L1399.3 571.2 L1395.8 570.8 L1392.3 570.3 L1388.8 569.9 L1385.3 569.5 L1381.7 569.1 L1378.2 568.7 L1374.6 568.3 L1371.1 567.9 L1367.5 567.5 L1363.9 567.1 L1360.3 566.7 L1356.7 566.4 L1353.1 566.0 L1349.4 565.6 L1345.8 565.3 L1342.2 564.9 L1338.5 564.6 L1334.8 564.3 L1331.1 564.0 L1327.4 563.7 L1323.7 563.4 L1320.0 563.1 L1316.3 562.8 L1312.6 562.5 L1308.8 562.2 L1305.1 562.0 L1301.3 561.7 L1297.6 561.5 L1293.8 561.2 L1290.0 561.0 L1286.2 560.8 L1282.4 560.5 L1278.5 560.3 L1274.7 560.1 L1270.9 559.9 L1267.0 559.7 L1263.1 559.6 L1259.3 559.4 L1255.4 559.2 L1251.5 559.1 L1247.6 558.9 L1243.7 558.8 L1239.7 558.7 L1235.8 558.6 L1231.9 558.4 L1227.9 558.3 L1223.9 558.3 L1220.0 558.2 L1216.0 558.1 L1212.0 558.0 L1208.0 558.0 L1203.9 557.9 L1199.9 557.9 L1195.9 557.9 L1191.8 557.8 L1187.8 557.8 L1183.7 557.8 L1179.6 557.8 L1175.5 557.8 L1171.4 557.9 L1167.3 557.9 L1163.2 557.9 L1159.1 558.0 L1154.9 558.1 L1150.8 558.1 L1146.6 558.2 L1142.4 558.3 L1138.2 558.4 L1134.0 558.5 L1129.8 558.6 L1125.6 558.8 L1121.4 558.9 L1117.2 559.1 L1112.9 559.2 L1108.7 559.4 L1104.4 559.6 L1100.1 559.8 L1095.8 560.0 L1091.5 560.2 L1087.2 560.4 L1082.9 560.6 L1078.6 560.9 L1074.2 561.1 L1069.9 561.4 L1065.5 561.7 L1061.1 562.0 L1056.8 562.3 L1052.4 562.6 L1048.0 562.9 L1043.6 563.2 L1039.1 563.5 L1034.7 563.9 L1030.3 564.3 L1025.8 564.6 L1021.3 565.0 L1016.9 565.4 L1012.4 565.8 L1007.9 566.2 L1003.4 566.7 L998.9 567.1 L994.3 567.5 L989.8 568.0 L985.2 568.5 L980.7 569.0 L976.1 569.5 L971.5 570.0 L966.9 570.5 L962.3 571.0 L957.7 571.6 L953.1 572.1 L948.5 572.7 L943.8 573.3 L939.2 573.8 L934.5 574.4 L929.8 575.1 L925.1 575.7 L920.4 576.3 L915.7 577.0 L911.0 577.6 L906.3 578.3 L901.5 579.0 L896.8 579.7 L892.0 580.4 L887.3 581.1 L882.5 581.9 L877.7 582.6 L872.9 583.4 L868.1 584.2 L863.2 584.9 L858.4 585.7 L853.6 586.6 L848.7 587.4 L843.8 588.2 L839.0 589.1 L834.1 589.9 L829.2 590.8 L824.3 591.7 L819.4 592.6 L814.4 593.5 L809.5 594.5 L804.5 595.4 L799.6 596.4 L794.6 597.3 L789.6 598.3 L784.6 599.3 L779.6 600.2 L774.6 601.3 L769.5 602.3 L764.5 603.3 L759.4 604.4 L754.4 605.4 L749.3 606.5 L744.2 607.6 L739.1 608.7 L734.0 609.8 L728.9 610.9 L723.8 612.1 L718.6 613.2 L713.5 614.5 L708.4 615.7 L703.2 616.9 L698.0 618.2 L692.8 619.4 L687.6 620.7 L682.4 622.0 L677.2 623.3 L672.0 624.6 L666.8 626.0 L661.5 627.3 L656.3 628.7 L651.0 630.1 L645.7 631.5 L640.4 632.9 L635.1 634.3 L629.8 635.8 L624.5 637.2 L619.1 638.7 L613.8 640.2 L608.4 641.7 L603.1 643.2 L597.7 644.8Z M1938.5 753.8 L1956.9 743.0 L1956.0 719.6 L1972.0 752.7Z"/>
<path clip-path="url(#c3)" d="M812.7 910.8 L814.1 911.2 L815.6 911.5 L817.0 911.9 L818.4 912.2 L819.9 912.6 L821.3 912.9 L822.8 913.3 L824.2 913.6 L825.7 913.9 L827.1 914.3 L828.6 914.6 L830.1 915.0 L831.5 915.3 L833.0 915.7 L834.5 916.0 L836.0 916.3 L837.4 916.7 L838.9 917.0 L840.4 917.3 L841.9 917.7 L843.4 918.0 L844.9 918.4 L846.4 918.7 L847.9 919.0 L849.4 919.3 L850.9 919.6 L852.4 920.0 L854.0 920.3 L855.5 920.6 L857.0 920.9 L858.6 921.2 L860.1 921.5 L861.6 921.8 L863.2 922.1 L864.7 922.4 L866.3 922.7 L867.8 923.0 L869.4 923.3 L870.9 923.6 L872.5 923.9 L874.1 924.2 L875.6 924.5 L877.2 924.8 L878.8 925.1 L880.4 925.4 L882.0 925.7 L883.6 926.0 L885.2 926.3 L886.8 926.5 L888.4 926.8 L890.0 927.1 L891.6 927.3 L893.2 927.6 L894.8 927.8 L896.5 928.1 L898.1 928.4 L899.7 928.6 L901.4 928.9 L903.0 929.1 L904.7 929.4 L906.3 929.6 L908.0 929.9 L909.6 930.1 L911.3 930.4 L913.0 930.6 L914.6 930.9 L916.3 931.1 L918.0 931.4 L919.7 931.6 L921.4 931.9 L923.1 932.1 L924.7 932.3 L926.5 932.6 L928.2 932.8 L929.9 933.0 L931.6 933.3 L933.3 933.5 L935.0 933.7 L936.8 933.9 L938.5 934.2 L940.2 934.4 L942.0 934.6 L943.7 934.8 L945.5 935.0 L947.2 935.3 L949.0 935.5 L950.8 935.7 L952.5 935.9 L954.3 936.2 L956.1 936.4 L957.9 936.7 L959.7 936.9 L961.5 937.1 L963.3 937.4 L965.1 937.6 L966.9 937.9 L968.7 938.1 L970.5 938.3 L972.3 938.5 L974.1 938.8 L976.0 939.0 L977.8 939.2 L979.7 939.4 L981.5 939.7 L983.4 939.9 L985.2 940.1 L987.1 940.3 L989.0 940.5 L990.8 940.7 L992.7 940.9 L994.6 941.1 L996.5 941.3 L998.4 941.5 L1000.3 941.7 L1002.2 941.9 L1004.1 942.1 L1006.1 942.3 L1008.0 942.5 L1009.9 942.7 L1011.8 942.9 L1013.8 943.1 L1015.7 943.2 L1017.7 943.4 L1019.7 943.6 L1021.6 943.8 L1023.6 943.9 L1025.6 944.1 L1027.6 944.3 L1029.5 944.5 L1031.5 944.6 L1033.5 944.8 L1035.6 944.9 L1037.6 945.1 L1039.6 945.3 L1041.6 945.4 L1043.6 945.6 L1045.7 945.7 L1047.7 945.9 L1049.8 946.0 L1051.8 946.1 L1053.9 946.3 L1056.0 946.4 L1058.0 946.5 L1060.1 946.7 L1062.2 946.8 L1064.3 946.9 L1066.4 947.1 L1068.5 947.2 L1070.6 947.3 L1072.7 947.4 L1074.9 947.5 L1077.0 947.6 L1079.1 947.8 L1081.3 947.9 L1083.4 948.0 L1085.6 948.1 L1087.8 948.2 L1089.9 948.3 L1092.1 948.4 L1094.3 948.4 L1096.5 948.5 L1098.7 948.6 L1100.9 948.7 L1103.1 948.8 L1105.3 948.9 L1107.6 948.9 L1109.8 949.0 L1112.0 949.1 L1114.3 949.1 L1116.5 949.2 L1118.8 949.3 L1121.1 949.3 L1123.3 949.4 L1125.6 949.4 L1127.9 949.5 L1130.2 949.5 L1132.5 949.6 L1134.8 949.6 L1137.1 949.6 L1139.5 949.7 L1141.8 949.7 L1144.1 949.7 L1146.5 949.8 L1148.8 949.8 L1151.2 949.8 L1153.5 949.8 L1155.9 949.8 L1158.3 949.9 L1160.7 949.9 L1163.1 949.9 L1165.5 949.9 L1167.9 949.9 L1170.3 949.9 L1172.8 949.9 L1175.2 949.8 L1177.6 949.8 L1180.1 949.8 L1182.5 949.8 L1185.0 949.8 L1187.5 949.7 L1190.0 949.7 L1192.4 949.7 L1194.9 949.6 L1197.4 949.6 L1200.0 949.6 L1202.5 949.5 L1205.0 949.5 L1207.5 949.4 L1210.1 949.4 L1212.6 949.3 L1215.2 949.2 L1217.7 949.2 L1220.3 949.1 L1222.9 949.0 L1225.5 949.0 L1228.1 948.9 L1230.7 948.8 L1233.3 948.7 L1235.9 948.6 L1238.6 948.5 L1241.2 948.4 L1243.9 948.3 L1246.5 948.2 L1249.2 948.1 L1251.8 948.0 L1254.5 947.9 L1257.2 947.8 L1259.9 947.7 L1262.6 947.6 L1265.3 947.5 L1268.1 947.4 L1270.8 947.2 L1273.5 947.1 L1276.3 947.0 L1279.0 946.8 L1281.8 946.7 L1284.6 946.6 L1287.3 946.4 L1290.1 946.3 L1292.9 946.1 L1295.7 946.0 L1298.6 945.8 L1301.4 945.7 L1304.2 945.5 L1307.1 945.3 L1309.9 945.1 L1312.8 945.0 L1315.6 944.8 L1318.5 944.6 L1321.4 944.4 L1324.3 944.2 L1327.2 944.0 L1330.1 943.8 L1333.0 943.6 L1336.0 943.4 L1338.9 943.2 L1341.9 943.0 L1344.8 942.8 L1347.8 942.5 L1350.8 942.3 L1353.8 942.1 L1356.8 941.8 L1359.8 941.6 L1362.8 941.4 L1365.8 941.1 L1368.8 940.9 L1371.9 940.6 L1374.9 940.3 L1378.0 940.1 L1381.1 939.8 L1384.1 939.5 L1387.2 939.3 L1390.3 939.0 L1393.4 938.7 L1396.5 938.4 L1399.7 938.1 L1402.8 937.8 L1406.0 937.5 L1409.1 937.2 L1412.3 936.9 L1415.5 936.6 L1418.6 936.3 L1421.8 935.9 L1425.0 935.6 L1428.3 935.3 L1431.5 935.0 L1434.7 934.6 L1438.0 934.3 L1441.2 933.9 L1444.5 933.6 L1447.7 933.2 L1451.0 932.9 L1454.3 932.5 L1457.6 932.1 L1460.9 931.7 L1464.3 931.4 L1467.6 931.0 L1470.9 930.6 L1474.3 930.2 L1477.6 929.8 L1481.0 929.4 L1484.4 929.0 L1487.8 928.6 L1491.2 928.2 L1494.6 927.7 L1498.0 927.3 L1501.5 926.9 L1504.9 926.5 L1508.4 926.0 L1511.8 925.6 L1515.3 925.1 L1518.8 924.7 L1522.3 924.2 L1525.8 923.8 L1529.3 923.3 L1532.8 922.8 L1536.4 922.3 L1539.9 921.9 L1543.5 921.4 L1547.1 920.9 L1550.6 920.4 L1554.2 919.9 L1557.8 919.4 L1561.5 918.9 L1565.1 918.4 L1568.7 917.9 L1572.4 917.4 L1576.0 916.9 L1579.7 916.4 L1583.4 915.9 L1587.1 915.3 L1590.8 914.8 L1594.5 914.3 L1598.2 913.7 L1601.9 913.2 L1605.7 912.6 L1609.4 912.1 L1613.2 911.5 L1617.0 910.9 L1620.8 910.4 L1624.6 909.8 L1628.4 909.2 L1632.2 908.6 L1636.0 908.0 L1639.9 907.4 L1643.7 906.8 L1647.6 906.2 L1651.5 905.6 L1655.4 905.0 L1659.3 904.4 L1663.2 903.7 L1667.1 903.1 L1671.1 902.5 L1675.0 901.8 L1679.0 901.2 L1682.9 900.5 L1686.9 899.9 L1690.9 899.2 L1694.9 898.5 L1698.9 897.8 L1703.0 897.2 L1707.0 896.5 L1711.0 895.8 L1715.1 895.1 L1719.2 894.4 L1723.3 893.7 L1727.4 893.0 L1731.5 892.2 L1735.6 891.5 L1739.7 890.8 L1743.9 890.1 L1748.0 889.3 L1752.2 888.6 L1756.4 887.8 L1760.6 887.1 L1764.8 886.4 L1769.0 885.6 L1773.3 884.8 L1777.5 884.1 L1781.8 883.3 L1786.0 882.5 L1790.3 881.7 L1794.6 880.9 L1798.9 880.2 L1803.2 879.4 L1807.5 878.5 L1811.9 877.7 L1816.2 876.9 L1820.6 876.1 L1825.0 875.3 L1829.4 874.4 L1833.8 873.6 L1838.2 872.7 L1842.6 871.9 L1847.1 871.0 L1851.5 870.2 L1856.0 869.3 L1860.5 868.4 L1864.9 867.6 L1869.4 866.7 L1874.0 865.8 L1878.5 864.9 L1883.0 864.0 L1887.6 863.0 L1892.1 862.1 L1896.7 861.1 L1901.3 860.1 L1905.9 859.2 L1910.5 858.2 L1915.1 857.2 L1919.7 856.2 L1924.4 855.2 L1929.0 854.2 L1933.7 853.2 L1938.4 852.2 L1943.1 851.2 L1947.8 850.1 L1952.5 849.1 L1957.3 848.1 L1959.3 857.2 L1954.5 858.2 L1949.8 859.2 L1945.1 860.3 L1940.4 861.3 L1935.7 862.3 L1931.0 863.3 L1926.3 864.3 L1921.7 865.3 L1917.0 866.3 L1912.4 867.3 L1907.8 868.3 L1903.2 869.2 L1898.6 870.2 L1894.0 871.2 L1889.5 872.1 L1884.9 873.1 L1880.4 874.0 L1875.9 875.0 L1871.4 876.0 L1866.9 876.9 L1862.4 877.9 L1857.9 878.8 L1853.5 879.8 L1849.0 880.7 L1844.6 881.7 L1840.2 882.6 L1835.8 883.5 L1831.4 884.4 L1827.0 885.3 L1822.6 886.2 L1818.3 887.1 L1813.9 888.0 L1809.6 888.9 L1805.2 889.8 L1800.9 890.7 L1796.6 891.5 L1792.4 892.4 L1788.1 893.3 L1783.8 894.1 L1779.6 895.0 L1775.3 895.8 L1771.1 896.6 L1766.9 897.5 L1762.7 898.3 L1758.5 899.1 L1754.3 899.9 L1750.2 900.7 L1746.0 901.5 L1741.8 902.3 L1737.7 903.1 L1733.6 903.9 L1729.5 904.6 L1725.4 905.4 L1721.3 906.2 L1717.2 906.9 L1713.2 907.7 L1709.1 908.4 L1705.1 909.1 L1701.0 909.9 L1697.0 910.6 L1693.0 911.3 L1689.0 912.0 L1685.0 912.7 L1681.1 913.5 L1677.1 914.1 L1673.1 914.8 L1669.2 915.5 L1665.3 916.2 L1661.4 916.9 L1657.5 917.6 L1653.6 918.2 L1649.7 918.9 L1645.8 919.6 L1642.0 920.2 L1638.1 920.8 L1634.3 921.5 L1630.4 922.1 L1626.6 922.8 L1622.8 923.4 L1619.0 924.0 L1615.2 924.6 L1611.5 925.2 L1607.7 925.8 L1604.0 926.4 L1600.2 927.0 L1596.5 927.6 L1592.8 928.2 L1589.1 928.8 L1585.4 929.4 L1581.7 929.9 L1578.0 930.5 L1574.4 931.0 L1570.7 931.6 L1567.1 932.2 L1563.4 932.7 L1559.8 933.2 L1556.2 933.8 L1552.6 934.3 L1549.0 934.8 L1545.4 935.3 L1541.9 935.8 L1538.3 936.3 L1534.7 936.8 L1531.2 937.3 L1527.7 937.8 L1524.2 938.3 L1520.7 938.7 L1517.2 939.2 L1513.7 939.7 L1510.2 940.1 L1506.7 940.6 L1503.3 941.0 L1499.8 941.5 L1496.4 941.9 L1493.0 942.3 L1489.5 942.8 L1486.1 943.2 L1482.7 943.6 L1479.4 944.0 L1476.0 944.4 L1472.6 944.8 L1469.3 945.2 L1465.9 945.6 L1462.6 946.0 L1459.3 946.4 L1455.9 946.8 L1452.6 947.2 L1449.3 947.6 L1446.1 947.9 L1442.8 948.3 L1439.5 948.7 L1436.3 949.0 L1433.0 949.4 L1429.8 949.7 L1426.5 950.1 L1423.3 950.4 L1420.1 950.8 L1416.9 951.1 L1413.7 951.4 L1410.6 951.7 L1407.4 952.1 L1404.2 952.4 L1401.1 952.7 L1397.9 953.0 L1394.8 953.3 L1391.7 953.6 L1388.6 953.9 L1385.5 954.2 L1382.4 954.5 L1379.3 954.7 L1376.2 955.0 L1373.1 955.3 L1370.1 955.6 L1367.0 955.8 L1364.0 956.1 L1361.0 956.3 L1358.0 956.6 L1354.9 956.8 L1351.9 957.1 L1348.9 957.3 L1346.0 957.6 L1343.0 957.8 L1340.0 958.0 L1337.1 958.2 L1334.1 958.5 L1331.2 958.7 L1328.3 958.9 L1325.3 959.1 L1322.4 959.3 L1319.5 959.5 L1316.6 959.7 L1313.7 959.9 L1310.9 960.1 L1308.0 960.3 L1305.1 960.4 L1302.3 960.6 L1299.4 960.8 L1296.6 961.0 L1293.8 961.1 L1291.0 961.3 L1288.2 961.5 L1285.4 961.6 L1282.6 961.8 L1279.8 961.9 L1277.0 962.1 L1274.2 962.2 L1271.5 962.3 L1268.7 962.5 L1266.0 962.6 L1263.3 962.7 L1260.6 962.8 L1257.8 963.0 L1255.1 963.1 L1252.4 963.2 L1249.7 963.3 L1247.1 963.4 L1244.4 963.5 L1241.7 963.5 L1239.1 963.6 L1236.4 963.7 L1233.8 963.8 L1231.1 963.8 L1228.5 963.9 L1225.9 964.0 L1223.3 964.0 L1220.7 964.1 L1218.1 964.1 L1215.5 964.2 L1212.9 964.2 L1210.4 964.3 L1207.8 964.3 L1205.2 964.4 L1202.7 964.4 L1200.2 964.4 L1197.6 964.5 L1195.1 964.5 L1192.6 964.5 L1190.1 964.5 L1187.6 964.5 L1185.1 964.5 L1182.6 964.5 L1180.1 964.6 L1177.7 964.6 L1175.2 964.6 L1172.8 964.5 L1170.3 964.5 L1167.9 964.5 L1165.4 964.5 L1163.0 964.5 L1160.6 964.5 L1158.2 964.5 L1155.8 964.4 L1153.4 964.4 L1151.0 964.4 L1148.6 964.3 L1146.3 964.3 L1143.9 964.2 L1141.5 964.2 L1139.2 964.2 L1136.9 964.1 L1134.5 964.1 L1132.2 964.0 L1129.9 963.9 L1127.6 963.9 L1125.2 963.8 L1122.9 963.7 L1120.7 963.7 L1118.4 963.6 L1116.1 963.5 L1113.8 963.4 L1111.6 963.4 L1109.3 963.3 L1107.0 963.2 L1104.8 963.1 L1102.6 963.0 L1100.3 962.9 L1098.1 962.8 L1095.9 962.7 L1093.7 962.6 L1091.5 962.5 L1089.3 962.4 L1087.1 962.3 L1084.9 962.2 L1082.7 962.1 L1080.6 961.9 L1078.4 961.8 L1076.2 961.7 L1074.1 961.6 L1071.9 961.4 L1069.8 961.3 L1067.7 961.2 L1065.5 961.0 L1063.4 960.9 L1061.3 960.8 L1059.2 960.6 L1057.1 960.5 L1055.0 960.3 L1052.9 960.2 L1050.8 960.0 L1048.8 959.9 L1046.7 959.7 L1044.6 959.5 L1042.6 959.4 L1040.5 959.2 L1038.5 959.0 L1036.5 958.9 L1034.4 958.7 L1032.4 958.5 L1030.4 958.4 L1028.4 958.2 L1026.4 958.0 L1024.4 957.8 L1022.4 957.6 L1020.4 957.4 L1018.4 957.2 L1016.4 957.1 L1014.4 956.9 L1012.5 956.7 L1010.5 956.5 L1008.6 956.3 L1006.6 956.1 L1004.7 955.9 L1002.7 955.7 L1000.8 955.4 L998.9 955.2 L996.9 955.0 L995.0 954.8 L993.1 954.6 L991.2 954.4 L989.3 954.1 L987.4 953.9 L985.5 953.7 L983.6 953.5 L981.8 953.2 L979.9 953.0 L978.0 952.8 L976.2 952.5 L974.3 952.3 L972.5 952.1 L970.6 951.8 L968.8 951.6 L967.0 951.3 L965.1 951.1 L963.3 950.9 L961.5 950.6 L959.7 950.4 L957.9 950.1 L956.1 949.8 L954.3 949.6 L952.5 949.3 L950.7 949.1 L948.9 948.8 L947.1 948.5 L945.3 948.2 L943.6 947.9 L941.8 947.6 L940.1 947.3 L938.3 947.0 L936.6 946.7 L934.8 946.4 L933.1 946.1 L931.4 945.7 L929.7 945.4 L927.9 945.1 L926.2 944.8 L924.5 944.5 L922.8 944.2 L921.1 943.8 L919.4 943.5 L917.7 943.2 L916.0 942.9 L914.4 942.5 L912.7 942.2 L911.0 941.9 L909.3 941.5 L907.7 941.2 L906.0 940.9 L904.4 940.5 L902.7 940.2 L901.1 939.9 L899.4 939.5 L897.8 939.2 L896.2 938.8 L894.5 938.5 L892.9 938.2 L891.3 937.8 L889.7 937.5 L888.1 937.1 L886.5 936.8 L884.9 936.4 L883.3 936.1 L881.7 935.7 L880.1 935.4 L878.5 935.0 L876.9 934.7 L875.3 934.4 L873.7 934.0 L872.2 933.7 L870.6 933.4 L869.0 933.0 L867.5 932.7 L865.9 932.3 L864.3 932.0 L862.8 931.6 L861.2 931.3 L859.7 931.0 L858.2 930.6 L856.6 930.3 L855.1 929.9 L853.6 929.6 L852.0 929.2 L850.5 928.9 L849.0 928.5 L847.5 928.2 L846.0 927.8 L844.4 927.5 L842.9 927.1 L841.4 926.8 L839.9 926.5 L838.4 926.1 L836.9 925.8 L835.4 925.4 L834.0 925.1 L832.5 924.8 L831.0 924.4 L829.5 924.1 L828.0 923.7 L826.6 923.4 L825.1 923.0 L823.6 922.7 L822.2 922.4 L820.7 922.0 L819.2 921.7 L817.8 921.3 L816.3 921.0 L814.9 920.6 L813.4 920.3 L812.0 919.9 L810.6 919.6Z M1949.1 875.8 L1953.8 853.5 L1941.1 836.5 L1969.1 848.9Z"/>
<path clip-path="url(#c4)" d="M868.2 1084.5 L873.0 1085.5 L877.7 1086.6 L882.4 1087.6 L887.2 1088.6 L891.9 1089.6 L896.5 1090.6 L901.2 1091.6 L905.9 1092.6 L910.5 1093.6 L915.1 1094.5 L919.8 1095.5 L924.4 1096.4 L929.0 1097.3 L933.5 1098.3 L938.1 1099.2 L942.7 1100.0 L947.2 1100.9 L951.7 1101.8 L956.2 1102.7 L960.7 1103.5 L965.2 1104.3 L969.7 1105.2 L974.2 1106.0 L978.6 1106.8 L983.1 1107.5 L987.5 1108.2 L992.0 1108.9 L996.4 1109.6 L1000.8 1110.3 L1005.2 1110.9 L1009.5 1111.6 L1013.9 1112.2 L1018.2 1112.9 L1022.6 1113.5 L1026.9 1114.1 L1031.2 1114.7 L1035.5 1115.4 L1039.8 1115.9 L1044.1 1116.5 L1048.3 1117.1 L1052.6 1117.7 L1056.8 1118.2 L1061.0 1118.8 L1065.2 1119.3 L1069.4 1119.9 L1073.6 1120.4 L1077.8 1120.9 L1081.9 1121.4 L1086.1 1121.9 L1090.2 1122.4 L1094.3 1122.8 L1098.4 1123.3 L1102.5 1123.8 L1106.6 1124.2 L1110.7 1124.6 L1114.7 1125.1 L1118.8 1125.5 L1122.8 1125.9 L1126.8 1126.3 L1130.9 1126.7 L1134.9 1127.0 L1138.8 1127.4 L1142.8 1127.8 L1146.8 1128.1 L1150.7 1128.5 L1154.7 1128.8 L1158.6 1129.2 L1162.5 1129.5 L1166.4 1129.8 L1170.3 1130.2 L1174.1 1130.5 L1178.0 1130.8 L1181.9 1131.1 L1185.7 1131.4 L1189.5 1131.6 L1193.3 1131.9 L1197.1 1132.2 L1200.9 1132.4 L1204.7 1132.6 L1208.5 1132.9 L1212.2 1133.1 L1216.0 1133.3 L1219.7 1133.5 L1223.4 1133.7 L1227.1 1133.9 L1230.8 1134.1 L1234.5 1134.3 L1238.2 1134.4 L1241.9 1134.6 L1245.5 1134.7 L1249.2 1134.9 L1252.8 1135.0 L1256.4 1135.1 L1260.0 1135.2 L1263.6 1135.4 L1267.2 1135.5 L1270.8 1135.5 L1274.3 1135.6 L1277.9 1135.7 L1281.4 1135.8 L1284.9 1135.8 L1288.5 1135.9 L1292.0 1135.9 L1295.5 1136.0 L1298.9 1136.0 L1302.4 1136.0 L1305.9 1136.0 L1309.3 1136.0 L1312.8 1136.0 L1316.2 1136.0 L1319.6 1136.0 L1323.0 1136.0 L1326.4 1135.9 L1329.8 1135.9 L1333.1 1135.9 L1336.5 1135.8 L1339.9 1135.7 L1343.2 1135.7 L1346.5 1135.6 L1349.8 1135.5 L1353.1 1135.4 L1356.4 1135.3 L1359.7 1135.2 L1363.0 1135.1 L1366.3 1135.0 L1369.5 1134.9 L1372.7 1134.7 L1376.0 1134.6 L1379.2 1134.4 L1382.4 1134.3 L1385.6 1134.1 L1388.8 1134.0 L1392.0 1133.8 L1395.1 1133.6 L1398.3 1133.4 L1401.4 1133.2 L1404.6 1133.1 L1407.7 1132.9 L1410.8 1132.7 L1413.9 1132.5 L1417.0 1132.4 L1420.1 1132.2 L1423.2 1132.0 L1426.2 1131.7 L1429.3 1131.5 L1432.3 1131.3 L1435.4 1131.1 L1438.4 1130.8 L1441.4 1130.6 L1444.4 1130.4 L1447.4 1130.1 L1450.4 1129.8 L1453.4 1129.6 L1456.3 1129.3 L1459.3 1129.0 L1462.2 1128.7 L1465.2 1128.4 L1468.1 1128.1 L1471.0 1127.8 L1473.9 1127.5 L1476.8 1127.2 L1479.7 1126.9 L1482.5 1126.6 L1485.4 1126.2 L1488.3 1125.9 L1491.1 1125.6 L1493.9 1125.2 L1496.8 1124.8 L1499.6 1124.5 L1502.4 1124.1 L1505.2 1123.7 L1508.0 1123.4 L1510.7 1123.0 L1513.5 1122.6 L1516.3 1122.2 L1519.0 1121.8 L1521.8 1121.4 L1524.5 1121.0 L1527.2 1120.6 L1529.9 1120.1 L1532.6 1119.7 L1535.3 1119.3 L1538.0 1118.9 L1540.7 1118.4 L1543.3 1118.0 L1546.0 1117.5 L1548.6 1117.1 L1551.3 1116.6 L1553.9 1116.1 L1556.5 1115.6 L1559.1 1115.2 L1561.7 1114.7 L1564.3 1114.2 L1566.9 1113.7 L1569.4 1113.2 L1572.0 1112.7 L1574.6 1112.2 L1577.1 1111.7 L1579.6 1111.2 L1582.2 1110.7 L1584.7 1110.1 L1587.2 1109.6 L1589.7 1109.1 L1592.2 1108.5 L1594.7 1108.0 L1597.1 1107.4 L1599.6 1106.9 L1602.0 1106.3 L1604.5 1105.8 L1606.9 1105.2 L1609.4 1104.7 L1611.8 1104.1 L1614.2 1103.6 L1616.6 1103.0 L1619.0 1102.4 L1621.4 1101.8 L1623.7 1101.2 L1626.1 1100.7 L1628.5 1100.1 L1630.8 1099.5 L1633.2 1098.9 L1635.5 1098.3 L1637.8 1097.7 L1640.1 1097.0 L1642.4 1096.4 L1644.7 1095.8 L1647.0 1095.2 L1649.3 1094.6 L1651.6 1093.9 L1653.9 1093.3 L1656.1 1092.7 L1658.4 1092.0 L1660.6 1091.4 L1662.8 1090.7 L1665.1 1090.1 L1667.3 1089.4 L1669.5 1088.8 L1671.7 1088.1 L1673.9 1087.4 L1676.0 1086.8 L1678.2 1086.1 L1680.4 1085.4 L1682.5 1084.7 L1684.7 1084.1 L1686.8 1083.4 L1689.0 1082.7 L1691.1 1082.0 L1693.2 1081.3 L1695.3 1080.6 L1697.4 1079.9 L1699.5 1079.2 L1701.6 1078.5 L1703.7 1077.8 L1705.7 1077.1 L1707.8 1076.4 L1709.9 1075.7 L1711.9 1074.9 L1713.9 1074.2 L1716.0 1073.5 L1718.0 1072.8 L1720.0 1072.0 L1722.0 1071.3 L1724.0 1070.6 L1726.0 1069.8 L1728.0 1069.1 L1730.0 1068.4 L1731.9 1067.6 L1733.9 1066.9 L1735.8 1066.1 L1737.8 1065.4 L1739.7 1064.6 L1741.7 1063.9 L1743.6 1063.1 L1745.5 1062.3 L1747.4 1061.6 L1749.3 1060.8 L1751.2 1060.1 L1753.1 1059.3 L1755.0 1058.6 L1756.8 1057.8 L1758.7 1057.0 L1760.6 1056.3 L1762.4 1055.5 L1764.3 1054.7 L1766.1 1053.9 L1767.9 1053.2 L1769.8 1052.4 L1771.6 1051.6 L1773.4 1050.8 L1775.2 1050.1 L1777.0 1049.3 L1778.8 1048.5 L1780.6 1047.7 L1782.3 1046.9 L1784.1 1046.1 L1785.8 1045.4 L1787.6 1044.6 L1789.3 1043.8 L1791.1 1043.0 L1792.8 1042.2 L1794.5 1041.4 L1796.3 1040.6 L1798.0 1039.8 L1799.7 1039.0 L1801.4 1038.2 L1803.1 1037.4 L1804.7 1036.6 L1806.4 1035.8 L1808.1 1035.0 L1809.7 1034.2 L1811.4 1033.4 L1813.0 1032.6 L1814.7 1031.8 L1816.3 1031.0 L1817.9 1030.1 L1819.6 1029.3 L1821.2 1028.5 L1822.8 1027.7 L1824.4 1026.9 L1826.0 1026.1 L1827.6 1025.3 L1829.2 1024.5 L1830.7 1023.6 L1832.3 1022.8 L1833.9 1022.0 L1835.4 1021.2 L1837.0 1020.4 L1838.5 1019.6 L1840.1 1018.8 L1841.6 1017.9 L1843.1 1017.1 L1844.6 1016.3 L1846.1 1015.5 L1847.6 1014.7 L1849.1 1013.9 L1850.6 1013.0 L1852.1 1012.2 L1853.6 1011.4 L1855.1 1010.6 L1856.5 1009.8 L1858.0 1008.9 L1859.5 1008.1 L1860.9 1007.3 L1862.4 1006.5 L1863.8 1005.7 L1865.2 1004.9 L1866.6 1004.1 L1868.1 1003.2 L1869.5 1002.4 L1870.9 1001.6 L1872.3 1000.8 L1873.7 1000.0 L1875.1 999.2 L1876.5 998.4 L1877.8 997.5 L1879.2 996.7 L1880.5 995.9 L1881.9 995.1 L1883.2 994.2 L1884.6 993.4 L1885.9 992.6 L1887.2 991.8 L1888.6 991.0 L1889.9 990.1 L1891.2 989.3 L1892.5 988.5 L1893.8 987.7 L1895.1 986.9 L1896.4 986.0 L1897.6 985.2 L1898.9 984.4 L1900.2 983.6 L1901.5 982.8 L1902.7 982.0 L1904.0 981.2 L1905.2 980.4 L1906.5 979.6 L1907.7 978.8 L1908.9 978.0 L1910.1 977.2 L1911.4 976.4 L1912.6 975.6 L1913.8 974.8 L1915.0 974.0 L1916.2 973.2 L1917.4 972.4 L1918.6 971.6 L1919.8 970.8 L1920.9 970.0 L1922.1 969.3 L1923.3 968.5 L1924.4 967.7 L1925.6 966.9 L1926.8 966.2 L1927.9 965.4 L1929.0 964.6 L1930.2 963.8 L1931.3 963.1 L1932.4 962.3 L1933.6 961.6 L1934.7 960.8 L1935.8 960.0 L1936.9 959.3 L1938.0 958.5 L1939.1 957.8 L1940.2 957.0 L1941.3 956.3 L1942.4 955.5 L1943.5 954.8 L1944.5 954.1 L1945.6 953.3 L1946.7 952.6 L1947.7 951.9 L1948.8 951.1 L1949.8 950.4 L1950.9 949.7 L1951.9 949.0 L1953.0 948.3 L1954.0 947.5 L1958.8 954.5 L1957.8 955.2 L1956.7 955.9 L1955.7 956.7 L1954.6 957.4 L1953.6 958.1 L1952.5 958.8 L1951.5 959.6 L1950.4 960.3 L1949.3 961.0 L1948.2 961.8 L1947.2 962.5 L1946.1 963.3 L1945.0 964.0 L1943.9 964.8 L1942.8 965.5 L1941.7 966.3 L1940.6 967.0 L1939.4 967.8 L1938.3 968.6 L1937.2 969.3 L1936.1 970.1 L1934.9 970.9 L1933.8 971.6 L1932.6 972.4 L1931.5 973.2 L1930.3 974.0 L1929.2 974.7 L1928.0 975.5 L1926.8 976.3 L1925.6 977.1 L1924.4 977.9 L1923.3 978.7 L1922.1 979.5 L1920.9 980.3 L1919.7 981.0 L1918.4 981.8 L1917.2 982.6 L1916.0 983.4 L1914.8 984.3 L1913.5 985.1 L1912.3 985.9 L1911.1 986.7 L1909.8 987.5 L1908.5 988.3 L1907.3 989.1 L1906.0 989.9 L1904.7 990.7 L1903.5 991.6 L1902.2 992.4 L1900.9 993.2 L1899.6 994.0 L1898.3 994.8 L1897.0 995.7 L1895.7 996.5 L1894.4 997.3 L1893.0 998.1 L1891.7 999.0 L1890.4 999.8 L1889.0 1000.6 L1887.7 1001.4 L1886.3 1002.3 L1885.0 1003.1 L1883.6 1003.9 L1882.2 1004.8 L1880.9 1005.6 L1879.5 1006.5 L1878.1 1007.3 L1876.7 1008.2 L1875.3 1009.0 L1873.9 1009.9 L1872.5 1010.8 L1871.1 1011.6 L1869.7 1012.5 L1868.3 1013.3 L1866.8 1014.2 L1865.4 1015.0 L1864.0 1015.9 L1862.5 1016.8 L1861.1 1017.6 L1859.6 1018.5 L1858.1 1019.3 L1856.7 1020.2 L1855.2 1021.1 L1853.7 1021.9 L1852.2 1022.8 L1850.7 1023.7 L1849.2 1024.5 L1847.7 1025.4 L1846.2 1026.2 L1844.6 1027.1 L1843.1 1028.0 L1841.6 1028.8 L1840.0 1029.7 L1838.5 1030.6 L1836.9 1031.4 L1835.3 1032.3 L1833.8 1033.1 L1832.2 1034.0 L1830.6 1034.9 L1829.0 1035.7 L1827.4 1036.6 L1825.8 1037.4 L1824.2 1038.3 L1822.6 1039.2 L1821.0 1040.0 L1819.3 1040.9 L1817.7 1041.7 L1816.0 1042.6 L1814.4 1043.4 L1812.7 1044.3 L1811.1 1045.2 L1809.4 1046.0 L1807.7 1046.9 L1806.0 1047.7 L1804.3 1048.6 L1802.6 1049.4 L1800.9 1050.3 L1799.2 1051.1 L1797.5 1052.0 L1795.7 1052.8 L1794.0 1053.7 L1792.2 1054.5 L1790.5 1055.3 L1788.7 1056.2 L1787.0 1057.0 L1785.2 1057.9 L1783.4 1058.7 L1781.6 1059.5 L1779.8 1060.4 L1778.0 1061.2 L1776.2 1062.0 L1774.4 1062.9 L1772.6 1063.7 L1770.7 1064.5 L1768.9 1065.4 L1767.0 1066.2 L1765.2 1067.0 L1763.3 1067.8 L1761.4 1068.7 L1759.6 1069.5 L1757.7 1070.3 L1755.8 1071.1 L1753.9 1071.9 L1752.0 1072.7 L1750.0 1073.5 L1748.1 1074.3 L1746.2 1075.1 L1744.2 1075.9 L1742.3 1076.7 L1740.3 1077.5 L1738.4 1078.3 L1736.4 1079.1 L1734.4 1079.9 L1732.4 1080.6 L1730.4 1081.4 L1728.4 1082.2 L1726.4 1083.0 L1724.4 1083.7 L1722.3 1084.5 L1720.3 1085.3 L1718.2 1086.0 L1716.2 1086.8 L1714.1 1087.6 L1712.1 1088.3 L1710.0 1089.1 L1707.9 1089.8 L1705.8 1090.6 L1703.7 1091.3 L1701.6 1092.1 L1699.5 1092.8 L1697.3 1093.6 L1695.2 1094.3 L1693.1 1095.0 L1690.9 1095.7 L1688.7 1096.5 L1686.6 1097.2 L1684.4 1097.9 L1682.2 1098.6 L1680.0 1099.4 L1677.8 1100.1 L1675.6 1100.8 L1673.4 1101.5 L1671.2 1102.2 L1668.9 1102.9 L1666.7 1103.6 L1664.4 1104.3 L1662.2 1104.9 L1659.9 1105.6 L1657.6 1106.3 L1655.3 1107.0 L1653.0 1107.7 L1650.7 1108.3 L1648.4 1109.0 L1646.1 1109.7 L1643.8 1110.3 L1641.4 1111.0 L1639.1 1111.6 L1636.7 1112.3 L1634.4 1112.9 L1632.0 1113.6 L1629.6 1114.2 L1627.2 1114.8 L1624.8 1115.5 L1622.4 1116.1 L1620.0 1116.7 L1617.6 1117.3 L1615.1 1117.9 L1612.7 1118.5 L1610.2 1119.2 L1607.8 1119.8 L1605.3 1120.4 L1602.8 1120.9 L1600.3 1121.5 L1597.8 1122.1 L1595.3 1122.7 L1592.8 1123.2 L1590.3 1123.8 L1587.7 1124.4 L1585.2 1124.9 L1582.6 1125.4 L1580.1 1126.0 L1577.5 1126.5 L1574.9 1127.1 L1572.3 1127.6 L1569.7 1128.1 L1567.1 1128.6 L1564.5 1129.1 L1561.8 1129.7 L1559.2 1130.2 L1556.6 1130.7 L1553.9 1131.2 L1551.2 1131.6 L1548.6 1132.1 L1545.9 1132.6 L1543.2 1133.1 L1540.5 1133.5 L1537.8 1134.0 L1535.0 1134.5 L1532.3 1134.9 L1529.6 1135.4 L1526.8 1135.8 L1524.0 1136.3 L1521.3 1136.7 L1518.5 1137.1 L1515.7 1137.5 L1512.9 1138.0 L1510.1 1138.4 L1507.3 1138.8 L1504.4 1139.2 L1501.6 1139.6 L1498.7 1139.9 L1495.9 1140.3 L1493.0 1140.7 L1490.1 1141.1 L1487.3 1141.4 L1484.4 1141.8 L1481.4 1142.2 L1478.5 1142.5 L1475.6 1142.8 L1472.7 1143.2 L1469.7 1143.5 L1466.8 1143.8 L1463.8 1144.2 L1460.8 1144.5 L1457.8 1144.8 L1454.8 1145.1 L1451.8 1145.4 L1448.8 1145.6 L1445.8 1145.9 L1442.7 1146.2 L1439.7 1146.5 L1436.6 1146.7 L1433.6 1147.0 L1430.5 1147.2 L1427.4 1147.5 L1424.3 1147.7 L1421.2 1147.9 L1418.1 1148.2 L1414.9 1148.4 L1411.8 1148.6 L1408.6 1148.8 L1405.5 1149.0 L1402.3 1149.2 L1399.1 1149.3 L1395.9 1149.5 L1392.7 1149.6 L1389.5 1149.7 L1386.3 1149.9 L1383.0 1150.0 L1379.8 1150.1 L1376.5 1150.2 L1373.3 1150.3 L1370.0 1150.3 L1366.7 1150.4 L1363.4 1150.5 L1360.1 1150.5 L1356.8 1150.6 L1353.4 1150.6 L1350.1 1150.7 L1346.8 1150.7 L1343.4 1150.7 L1340.0 1150.7 L1336.6 1150.7 L1333.2 1150.7 L1329.8 1150.7 L1326.4 1150.7 L1323.0 1150.7 L1319.6 1150.7 L1316.1 1150.6 L1312.7 1150.6 L1309.2 1150.5 L1305.7 1150.4 L1302.2 1150.4 L1298.7 1150.3 L1295.2 1150.2 L1291.7 1150.1 L1288.1 1150.0 L1284.6 1149.9 L1281.0 1149.8 L1277.5 1149.7 L1273.9 1149.5 L1270.3 1149.4 L1266.7 1149.2 L1263.1 1149.1 L1259.5 1148.9 L1255.8 1148.7 L1252.2 1148.5 L1248.5 1148.3 L1244.9 1148.1 L1241.2 1147.9 L1237.5 1147.7 L1233.8 1147.5 L1230.1 1147.2 L1226.4 1147.0 L1222.6 1146.8 L1218.9 1146.5 L1215.1 1146.2 L1211.4 1145.9 L1207.6 1145.7 L1203.8 1145.4 L1200.0 1145.0 L1196.2 1144.7 L1192.4 1144.4 L1188.5 1144.1 L1184.7 1143.7 L1180.8 1143.4 L1177.0 1143.0 L1173.1 1142.7 L1169.2 1142.3 L1165.3 1141.9 L1161.4 1141.5 L1157.4 1141.1 L1153.5 1140.7 L1149.5 1140.3 L1145.6 1139.8 L1141.6 1139.3 L1137.6 1138.9 L1133.6 1138.4 L1129.6 1137.9 L1125.6 1137.4 L1121.6 1136.9 L1117.5 1136.3 L1113.5 1135.8 L1109.4 1135.3 L1105.3 1134.7 L1101.2 1134.1 L1097.1 1133.6 L1093.0 1133.0 L1088.9 1132.4 L1084.8 1131.8 L1080.6 1131.2 L1076.5 1130.6 L1072.3 1129.9 L1068.1 1129.3 L1063.9 1128.6 L1059.7 1128.0 L1055.5 1127.3 L1051.2 1126.6 L1047.0 1125.9 L1042.7 1125.2 L1038.5 1124.5 L1034.2 1123.8 L1029.9 1123.1 L1025.6 1122.3 L1021.3 1121.5 L1017.0 1120.8 L1012.6 1120.0 L1008.3 1119.2 L1003.9 1118.4 L999.5 1117.6 L995.1 1116.7 L990.7 1115.9 L986.3 1115.1 L981.9 1114.2 L977.5 1113.3 L973.0 1112.5 L968.5 1111.7 L964.0 1110.8 L959.5 1110.0 L955.0 1109.1 L950.5 1108.3 L945.9 1107.4 L941.4 1106.5 L936.8 1105.6 L932.3 1104.7 L927.7 1103.8 L923.1 1102.9 L918.4 1101.9 L913.8 1101.0 L909.2 1100.0 L904.5 1099.1 L899.8 1098.1 L895.2 1097.1 L890.5 1096.1 L885.8 1095.1 L881.0 1094.0 L876.3 1093.0 L871.6 1092.0 L866.8 1090.9Z M1954.2 975.1 L1953.0 953.1 L1933.4 943.3 L1964.7 945.4Z"/>
</g></svg>
</body></html>
